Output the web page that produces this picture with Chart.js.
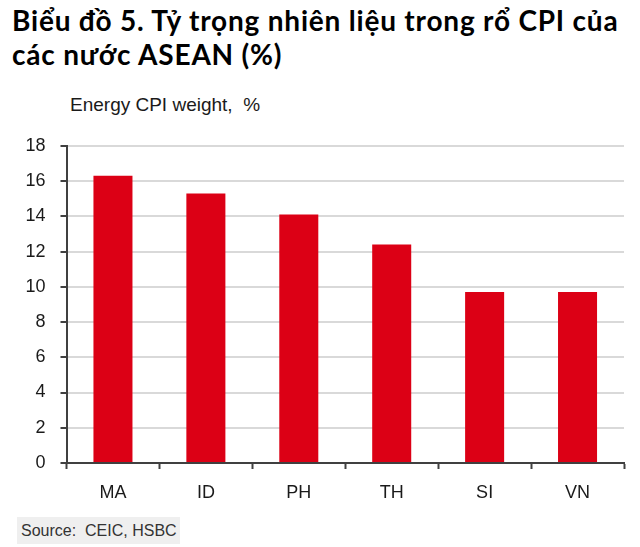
<!DOCTYPE html>
<html>
<head>
<meta charset="utf-8">
<script src="https://cdn.jsdelivr.net/npm/chart.js@4.4.1/dist/chart.umd.min.js"></script>
<style>
  html, body { margin: 0; padding: 0; background: #fff; }
  body { width: 640px; height: 547px; position: relative; overflow: hidden; }
  .title {
    position: absolute; left: 12px; top: 3px;
    font-family: 'Lato', 'Noto Sans', sans-serif; font-weight: 700;
    font-size: 28px; line-height: 34px; letter-spacing: 0.8px; color: #000;
    white-space: nowrap;
  }
  .unit {
    position: absolute; left: 70px; top: 95px;
    font-family: 'Liberation Sans', Arial, sans-serif; font-size: 19px;
    line-height: 20px; color: #1a1a1a; white-space: nowrap;
  }
  .chart-wrap { position: absolute; left: 0; top: 120px; width: 640px; height: 383px; }
  .source {
    position: absolute; left: 17px; top: 517px; width: 159px; height: 27px;
    background: #efefef; padding-left: 4px;
    font-family: 'Liberation Sans', Arial, sans-serif; font-size: 16px;
    line-height: 27px; color: #333; white-space: pre;
  }
</style>
</head>
<body>
<div class="title">Biểu đồ 5. Tỷ trọng nhiên liệu trong rổ CPI của<br>các nước ASEAN (%)</div>
<div class="unit">Energy CPI weight,&nbsp; %</div>
<div class="chart-wrap"><canvas id="chart"></canvas></div>
<div class="source">Source:  CEIC, HSBC</div>

<script>
// ===== Data =====
const countries = ['MA', 'ID', 'PH', 'TH', 'SI', 'VN'];
const energyWeight = [16.3, 15.3, 14.1, 12.4, 9.7, 9.7];
const yTicks = [0, 2, 4, 6, 8, 10, 12, 14, 16, 18];

const axisColor = '#404040';
const gridColor = '#d9d9d9';
const labelFont = { family: "'Liberation Sans', Arial, sans-serif", size: 18 };

new Chart(document.getElementById('chart'), {
  type: 'bar',
  data: {
    labels: countries,
    datasets: [{
      data: energyWeight,
      backgroundColor: '#dc0015',
      borderWidth: 0,
      barPercentage: 0.42,
      categoryPercentage: 1
    }]
  },
  options: {
    responsive: true, maintainAspectRatio: false, animation: false,
    layout: { padding: { top: 22, right: 16, left: 0, bottom: 0 } },
    plugins: { legend: { display: false }, tooltip: { enabled: false } },
    scales: {
      x: {
        grid: { display: true, drawOnChartArea: false, drawTicks: true, tickLength: 6, tickColor: axisColor, tickWidth: 2 },
        border: { color: axisColor, width: 2 },
        ticks: { font: labelFont, color: '#1a1a1a', padding: 13 },
        afterFit: s => { s.height = 40; }
      },
      y: {
        min: 0, max: 18,
        afterBuildTicks: s => { s.ticks = yTicks.map(v => ({ value: v })); },
        grid: { color: gridColor, lineWidth: 2, drawTicks: true, tickLength: 6, tickColor: axisColor, tickWidth: 2 },
        border: { color: axisColor, width: 2 },
        ticks: { font: labelFont, color: '#1a1a1a', padding: 15 },
        afterFit: s => { s.width = 66.5; }
      }
    }
  }
});
</script>
</body>
</html>
